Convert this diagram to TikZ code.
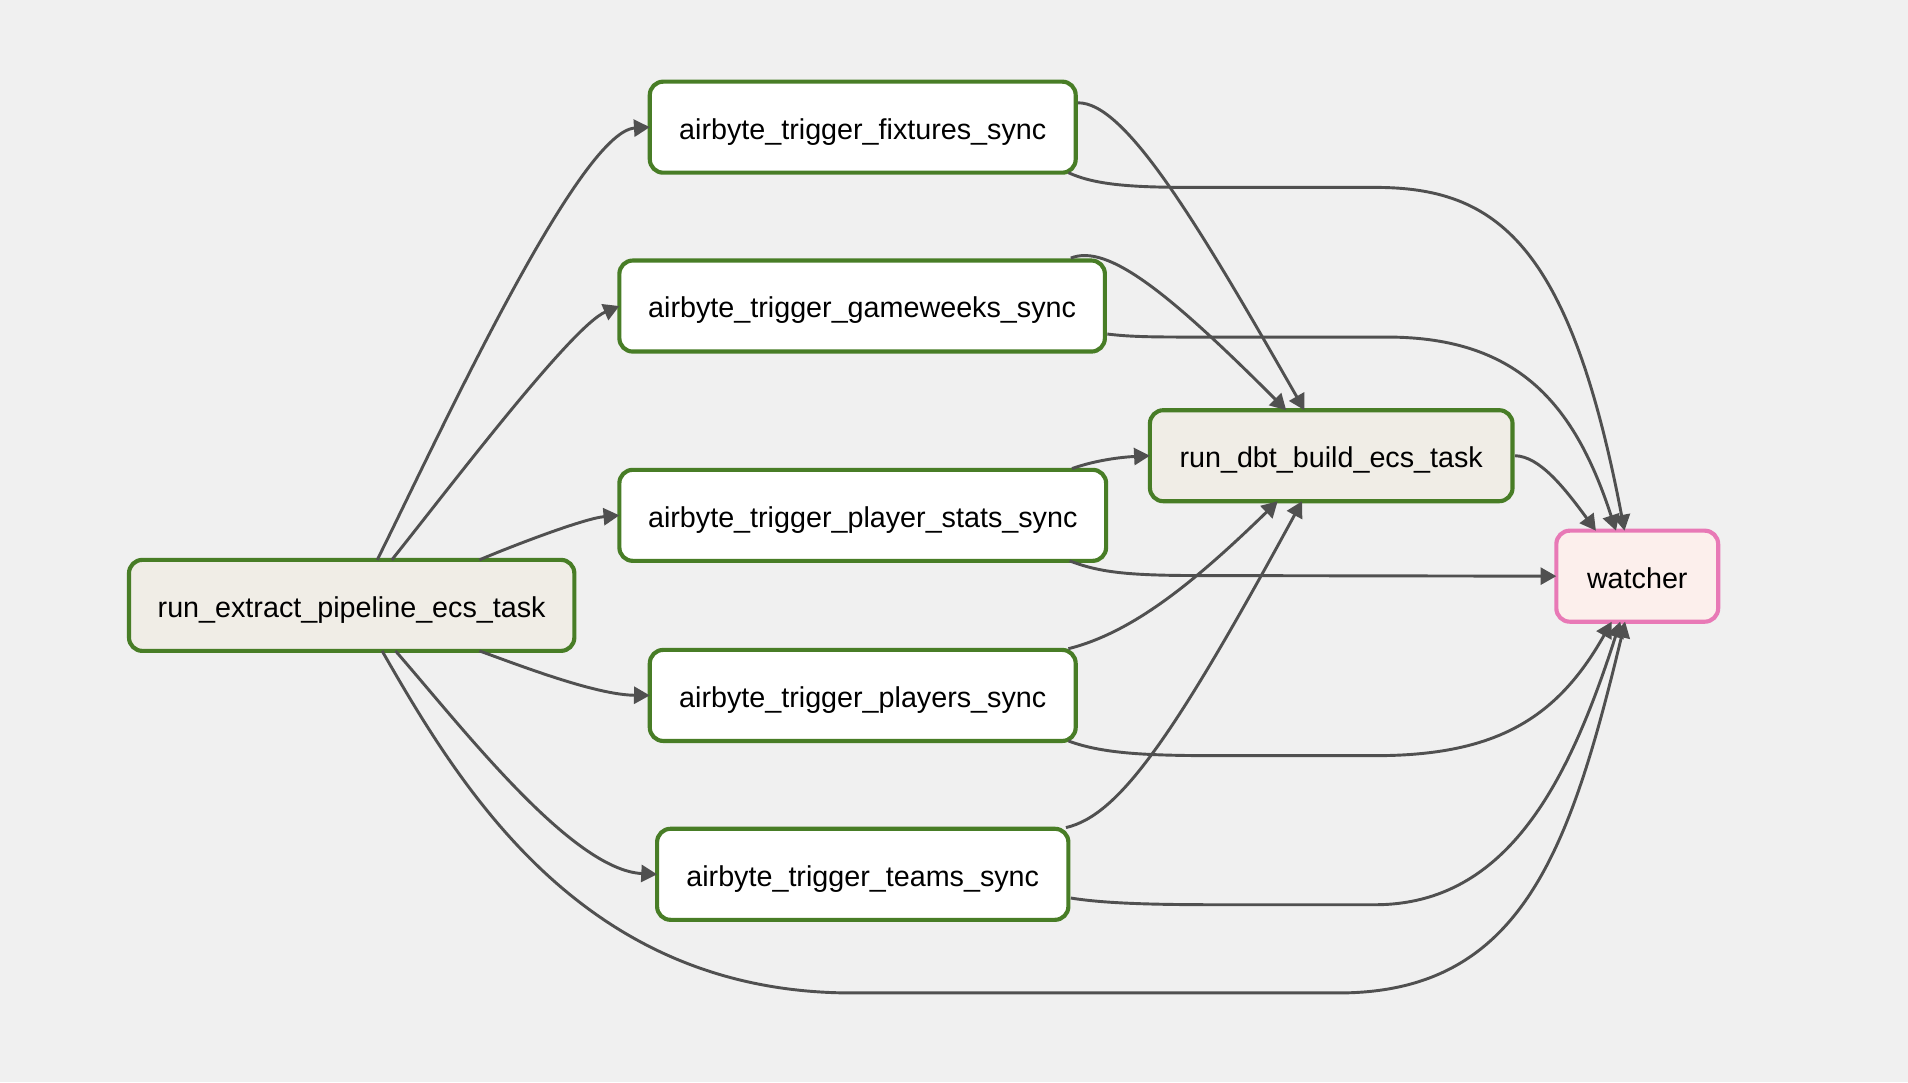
\documentclass[tikz,border=0pt]{standalone}
\usepackage{fontspec}
\setmainfont{Liberation Sans}
\usetikzlibrary{arrows.meta,calc}
\definecolor{bgcol}{RGB}{240,240,240}
\definecolor{taskgreen}{RGB}{72,125,38}
\definecolor{beige}{RGB}{240,237,230}
\definecolor{watchfill}{RGB}{252,239,236}
\definecolor{watchborder}{RGB}{232,121,182}
\definecolor{edgecol}{RGB}{80,80,80}
\begin{document}
\begin{tikzpicture}[x=0.5pt,y=-0.5pt,
  box/.style={line width=1.7pt, rounded corners=5.5pt, minimum height=37.4pt,
    inner sep=0pt, outer sep=0pt, font=\fontsize{11.8}{14}\selectfont,
    text height=9.8pt, text depth=0pt, align=center},
  task/.style={box, draw=taskgreen, fill=white},
  maintask/.style={box, draw=taskgreen, fill=beige},
  watchbox/.style={box, draw=watchborder, fill=watchfill},
  edge/.style={draw=edgecol, line width=1.2pt, -{Triangle[length=6.5pt,width=7pt]}}]
\fill[bgcol] (0,0) rectangle (1568,889.2);
\useasboundingbox (0,0) rectangle (1568,889.2);

\node[maintask, minimum width=183pt] (E) at (289,497.5) {run\_extract\_pipeline\_ecs\_task};
\node[task, minimum width=175pt] (F) at (709,104.5) {airbyte\_trigger\_fixtures\_sync};
\node[task, minimum width=199.5pt] (G) at (708.5,251.5) {airbyte\_trigger\_gameweeks\_sync};
\node[task, minimum width=200pt] (P) at (709,423.5) {airbyte\_trigger\_player\_stats\_sync};
\node[task, minimum width=175pt] (PL) at (709,571.5) {airbyte\_trigger\_players\_sync};
\node[task, minimum width=169pt] (T) at (709,718.5) {airbyte\_trigger\_teams\_sync};
\node[maintask, minimum width=149pt] (D) at (1094,374.5) {run\_dbt\_build\_ecs\_task};
\node[watchbox, minimum width=66.5pt] (W) at (1345.5,473.5) {watcher};

% from run_extract_pipeline_ecs_task
\draw[edge] ($(E.north)+(21,0)$) .. controls (355,370) and (475,108) .. (F.west);
\draw[edge] ($(E.north)+(33,0)$) .. controls (370,400) and (470,268) .. (G.west);
\draw[edge] ($(E.north)+(105,0)$) .. controls (420,449) and (480,426) .. (P.west);
\draw[edge] ($(E.south)+(105,0)$) .. controls (430,548) and (490,571) .. (PL.west);
\draw[edge] ($(E.south)+(36,0)$) .. controls (380,598) and (470,715) .. (T.west);
\draw[edge] ($(E.south)+(25,0)$) .. controls (380,650) and (480,816) .. (700,816)
  -- (1100,816) .. controls (1250,816) and (1290,700) .. ($(W.south)+(-10,0)$);

% into run_dbt_build_ecs_task
\draw[edge] ($(F.east)+(2,-20)$) .. controls (925,84) and (985,185) .. ($(D.north)+(-22,0)$);
\draw[edge] ($(G.north east)+(-28,-2)$) .. controls (910,200) and (960,240) .. ($(D.north)+(-37,0)$);
\draw[edge] ($(P.north east)+(-28,-1)$) .. controls (895,380) and (915,376) .. (D.west);
\draw[edge] ($(PL.north east)+(-6,-1)$) .. controls (930,520) and (980,480) .. ($(D.south)+(-44,0)$);
\draw[edge] ($(T.north east)+(-2,-1)$) .. controls (920,670) and (965,605) .. ($(D.south)+(-24,0)$);

% into watcher
\draw[edge] ($(F.south east)+(-6,0)$) .. controls (900,152) and (930,154) .. (980,154)
  -- (1130,154) .. controls (1230,154) and (1290,200) .. ($(W.north)+(-10.5,0)$);
\draw[edge] ($(G.east)+(2,23)$) .. controls (930,277) and (950,277) .. (990,277)
  -- (1140,277) .. controls (1250,277) and (1295,335) .. ($(W.north)+(-17.5,0)$);
\draw[edge] ($(P.south east)+(-30,0)$) .. controls (905,471) and (930,473) .. (990,473)
  -- (W.west);
\draw[edge] ($(PL.south east)+(-6,0)$) .. controls (905,619) and (940,621) .. (1000,621)
  -- (1130,621) .. controls (1230,621) and (1280,590) .. ($(W.south)+(-21,0)$);
\draw[edge] ($(T.east)+(2,19.5)$) .. controls (905,742) and (940,743.5) .. (1000,743.5)
  -- (1130,743.5) .. controls (1240,743.5) and (1290,640) .. ($(W.south)+(-14,0)$);
\draw[edge] ($(D.east)+(2,0)$) .. controls (1265,375) and (1285,400) .. ($(W.north)+(-34,0)$);
\end{tikzpicture}
\end{document}
